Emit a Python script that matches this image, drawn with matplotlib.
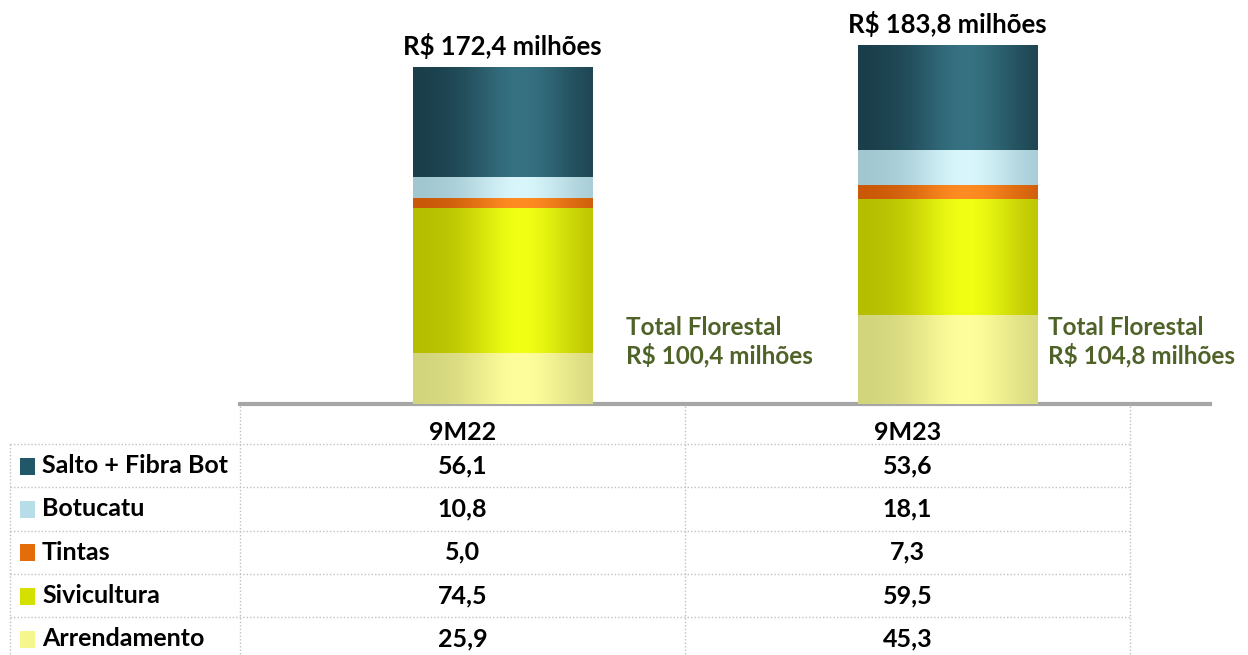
import numpy as np
import matplotlib.pyplot as plt
from matplotlib.colors import to_rgb

# data
periods = ['9M22', '9M23']
series = ['Salto + Fibra Bot', 'Botucatu', 'Tintas', 'Sivicultura', 'Arrendamento']
salto = [56.1, 53.6]
botucatu = [10.8, 18.1]
tintas = [5.0, 7.3]
sivicultura = [74.5, 59.5]
arrendamento = [25.9, 45.3]
total_labels = ['R$ 172,4 milhões', 'R$ 183,8 milhões']
florestal_labels = ['R$ 100,4 milhões', 'R$ 104,8 milhões']

values = {'Salto + Fibra Bot': salto, 'Botucatu': botucatu, 'Tintas': tintas,
          'Sivicultura': sivicultura, 'Arrendamento': arrendamento}

# legend colour, cylinder edge colour, cylinder highlight colour
colors = {
    'Salto + Fibra Bot': ('#215868', '#1a3e4a', '#367282'),
    'Botucatu': ('#b7dee8', '#a0c6d0', '#d8f6fb'),
    'Tintas': ('#e46c0a', '#c85808', '#ff8c22'),
    'Sivicultura': ('#d4e000', '#b4bc00', '#f0ff14'),
    'Arrendamento': ('#f5f78c', '#d2d47c', '#fffe9c'),
}

plt.rcParams['font.family'] = ['Lato', 'DejaVu Sans']
plt.rcParams['font.weight'] = 'bold'

W, H = 1248, 655
fig = plt.figure(figsize=(W / 100, H / 100), dpi=100)
fig.patch.set_facecolor('white')

# pixel layout
base_y = 404
col_left = 240
col_w = 445
px_per_unit = 1.954

# overlay axes in pixel coordinates for the data table
tab = fig.add_axes([0, 0, 1, 1])
tab.set_xlim(0, W)
tab.set_ylim(H, 0)
tab.axis('off')

# bar axes
ax = fig.add_axes([col_left / W, (H - base_y) / H, (1210 - col_left) / W, base_y / H])
ax.patch.set_alpha(0)
for s in ['top', 'right', 'left']:
    ax.spines[s].set_visible(False)
ax.spines['bottom'].set_color('#a6a6a6')
ax.spines['bottom'].set_linewidth(3)
ax.set_xticks([])
ax.set_yticks([])

x = np.arange(len(periods)) + 0.5 + 40 / col_w
bar_w = 180 / col_w

t = np.linspace(0, 1, 200)
g = np.exp(-((t - 0.6) / 0.3) ** 2)

bottom = np.zeros(len(periods))
for name in series[::-1]:
    vals = np.array(values[name])
    leg, edge, hi = colors[name]
    bars = ax.bar(x, vals, bar_w, bottom=bottom, color=leg, linewidth=0, zorder=2)
    e = np.array(to_rgb(edge))
    h = np.array(to_rgb(hi))
    grad = (e[None, :] + (h - e)[None, :] * g[:, None])[None, :, :]
    for p in bars.patches:
        x0, y0 = p.get_x(), p.get_y()
        im = ax.imshow(grad, extent=[x0, x0 + p.get_width(), y0, y0 + p.get_height()],
                       aspect='auto', interpolation='bilinear', zorder=3)
        im.set_clip_path(p)
    bottom += vals

ax.set_xlim(0, (1210 - col_left) / col_w)
ax.set_ylim(0, base_y / px_per_unit)

# totals above bars
for xi, top, lab in zip(x, bottom, total_labels):
    ax.annotate(lab, (xi, top), xytext=(0, 6), textcoords='offset points',
                ha='center', va='bottom', fontsize=18.5, fontweight='bold',
                color='black', annotation_clip=False)

# Total Florestal labels (gap to the right of each bar, in pixels)
flo_gap = [34, 11]
for xi, gap, lab in zip(x, flo_gap, florestal_labels):
    ax.text(xi + bar_w / 2 + gap / col_w, 32, 'Total Florestal\n' + lab,
            ha='left', va='center', fontsize=17.5, fontweight='bold',
            color='#4f6228', linespacing=1.2)

# data table
dot = dict(color='#c0c0c0', linestyle=(0, (1, 1.5)), linewidth=1)
row_h = 43.3
first_line = 444
n_rows = len(series)
for i in range(n_rows + 1):
    y = first_line + i * row_h
    tab.plot([10, col_left + 2 * col_w], [y, y], **dot)
tab.plot([10, 10], [first_line, H], **dot)
for i in range(len(periods) + 1):
    xl = col_left + i * col_w
    tab.plot([xl, xl], [base_y + 2, H], **dot)

for j, per in enumerate(periods):
    cx = col_left + col_w * (j + 0.5)
    tab.text(cx, 432, per, ha='center', va='center', fontsize=18, fontweight='bold')

for i, name in enumerate(series):
    cy = first_line + row_h * (i + 0.5)
    leg = colors[name][0]
    tab.add_patch(plt.Rectangle((20, cy - 8), 15, 17, color=leg, linewidth=0))
    tab.text(42, cy, name, ha='left', va='center', fontsize=18, fontweight='bold')
    for j in range(len(periods)):
        cx = col_left + col_w * (j + 0.5)
        txt = f'{values[name][j]:.1f}'.replace('.', ',')
        tab.text(cx, cy, txt, ha='center', va='center', fontsize=18, fontweight='bold')

fig.savefig('out.png', dpi=100, facecolor='white')
